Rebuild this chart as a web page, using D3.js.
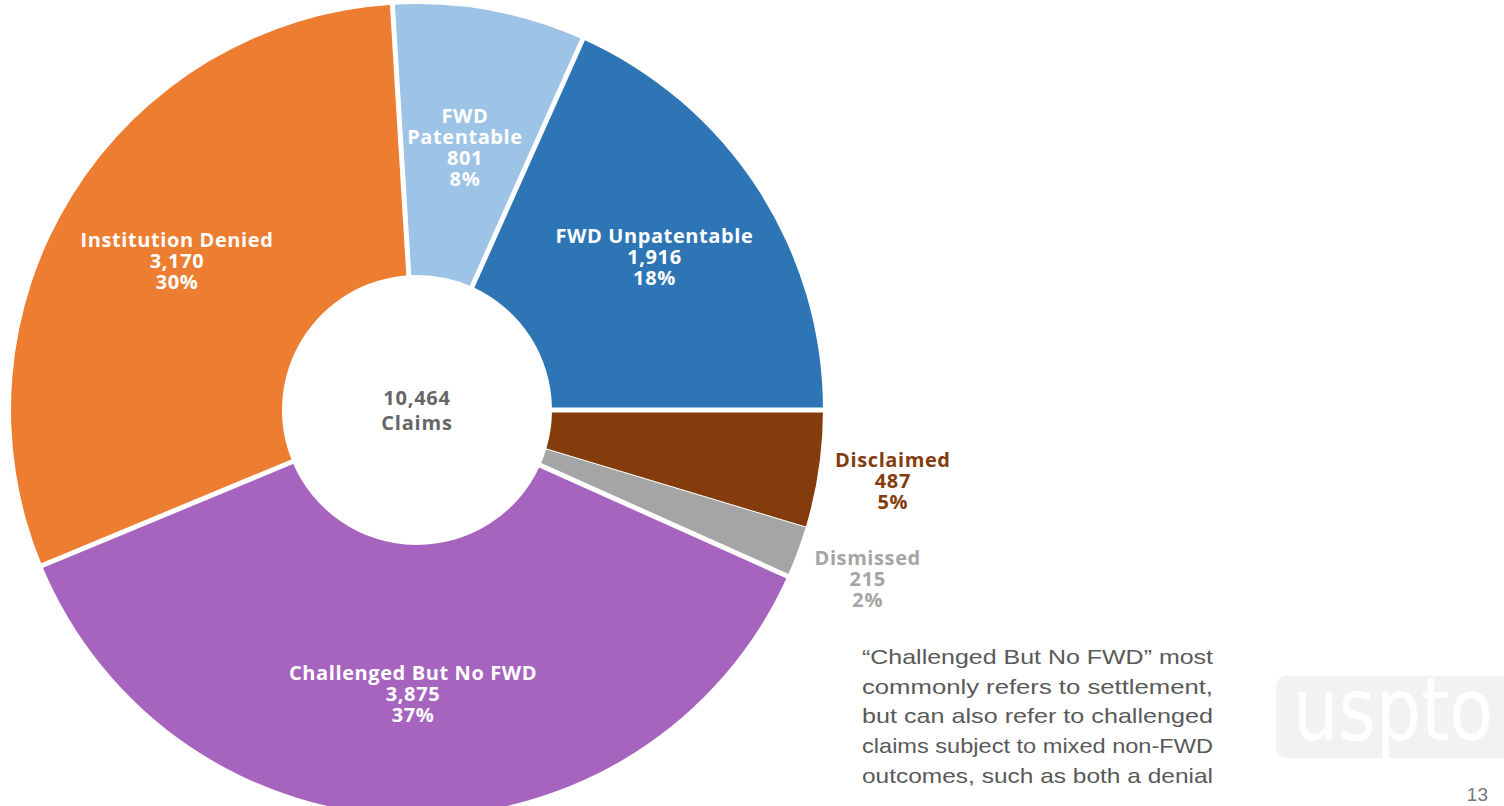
<!DOCTYPE html>
<html>
<head>
<meta charset="utf-8">
<script src="https://cdn.jsdelivr.net/npm/d3@7"></script>
<style>
  body { margin: 0; background: #fff; }
  svg { display: block; }
</style>
</head>
<body>
<svg id="chart" width="1504" height="806"></svg>
<script>
// claim outcomes, clockwise from just left of 12 o'clock
const categories = ["FWD Patentable", "FWD Unpatentable", "Disclaimed", "Dismissed", "Challenged But No FWD", "Institution Denied"];
const labelLines = [["FWD", "Patentable"], ["FWD Unpatentable"], ["Disclaimed"], ["Dismissed"], ["Challenged But No FWD"], ["Institution Denied"]];
const claims = [801, 1916, 487, 215, 3875, 3170];
const percents = ["8%", "18%", "5%", "2%", "37%", "30%"];
const totalLabel = ["10,464", "Claims"];
const noteLines = [
    "\u201cChallenged But No FWD\u201d most",
    "commonly refers to settlement,",
    "but can also refer to challenged",
    "claims subject to mixed non-FWD",
    "outcomes, such as both a denial"
];
const pageNumber = "13";

const colors = {
    "FWD Patentable": "#9dc3e6",
    "FWD Unpatentable": "#2e75b6",
    "Disclaimed": "#843c0c",
    "Dismissed": "#a5a5a5",
    "Challenged But No FWD": "#a764bf",
    "Institution Denied": "#ed7d31",
};
// slices that get their label outside the ring
const outside = ["Disclaimed", "Dismissed"];

const svg = d3.select("#chart");
const cx = 417, cy = 410;
const outerR = 406, innerR = 135;

const data = categories.map((c, i) => ({
    name: c, value: claims[i], lines: labelLines[i], pct: percents[i],
}));

const total = d3.sum(claims);
const startDeg = 90 - (claims[0] + claims[1]) / total * 360;

const pie = d3.pie()
    .value((d) => d.value)
    .sort(null)
    .startAngle(startDeg * Math.PI / 180)
    .endAngle((startDeg + 360) * Math.PI / 180);

const arcs = pie(data);

const arc = d3.arc().innerRadius(innerR).outerRadius(outerR);

const g = svg.append("g").attr("transform", `translate(${cx},${cy})`);

g.selectAll("path.slice")
    .data(arcs)
    .join("path")
    .attr("class", "slice")
    .attr("d", arc)
    .attr("fill", (d) => colors[d.data.name]);

// white gaps between slices (thin one between disclaimed / dismissed)
g.selectAll("line.gap")
    .data(arcs)
    .join("line")
    .attr("class", "gap")
    .attr("x1", (d) => innerR * 0.9 * Math.sin(d.startAngle))
    .attr("y1", (d) => -innerR * 0.9 * Math.cos(d.startAngle))
    .attr("x2", (d) => (outerR + 5) * Math.sin(d.startAngle))
    .attr("y2", (d) => -(outerR + 5) * Math.cos(d.startAngle))
    .attr("stroke", "#fff")
    .attr("stroke-width", (d) => d.data.name === "Dismissed" ? 1 : 5);

const font = "'Open Sans', 'Noto Sans', sans-serif";
const lineH = 21;

arcs.forEach((d) => {
    const out = outside.includes(d.data.name);
    const mid = (d.startAngle + d.endAngle) / 2;
    const allLines = [...d.data.lines, d3.format(",")(d.data.value), d.data.pct];
    const r = out ? 481 : (allLines.length > 3 ? 268 : 283);
    const x = r * Math.sin(mid), y = -r * Math.cos(mid);
    const fill = out ? colors[d.data.name] : "#fff";
    const t = g.append("text")
        .attr("x", x)
        .attr("y", y - (allLines.length - 1) * lineH / 2)
        .attr("text-anchor", "middle")
        .attr("dominant-baseline", "central")
        .style("font-family", font)
        .style("font-weight", 700)
        .style("font-size", "20px")
        .style("letter-spacing", "0.6px")
        .attr("fill", fill);
    allLines.forEach((l, i) => {
        t.append("tspan")
            .attr("x", x)
            .attr("dy", i === 0 ? 0 : lineH)
            .text(l);
    });
});

// centre total
g.selectAll("text.total")
    .data(totalLabel)
    .join("text")
    .attr("class", "total")
    .attr("x", 0)
    .attr("y", (d, i) => -13 + i * 25)
    .attr("text-anchor", "middle")
    .attr("dominant-baseline", "central")
    .style("font-family", font)
    .style("font-weight", 700)
    .style("font-size", "20px")
    .style("letter-spacing", "0.8px")
    .attr("fill", "#666")
    .text((d) => d);

// footnote
svg.selectAll("text.note")
    .data(noteLines)
    .join("text")
    .attr("class", "note")
    .attr("x", 862)
    .attr("y", (d, i) => 664 + i * 29.7)
    .attr("textLength", 351)
    .attr("lengthAdjust", "spacingAndGlyphs")
    .style("font-family", "'Liberation Sans', Arial, sans-serif")
    .style("font-size", "21px")
    .attr("fill", "#595959")
    .text((d) => d);

// watermark logo
svg.append("rect")
    .attr("x", 1276).attr("y", 676)
    .attr("width", 250).attr("height", 82)
    .attr("rx", 10)
    .attr("fill", "#f2f2f2");
svg.append("text")
    .attr("x", 1293).attr("y", 740)
    .style("font-family", "'DejaVu Sans', sans-serif")
    .style("font-size", "88px")
    .attr("fill", "#fff")
    .attr("textLength", 200)
    .attr("lengthAdjust", "spacingAndGlyphs")
    .text("uspto");

svg.append("text")
    .attr("x", 1488).attr("y", 801)
    .attr("text-anchor", "end")
    .style("font-family", "'Liberation Sans', Arial, sans-serif")
    .style("font-size", "19px")
    .attr("fill", "#777")
    .text(pageNumber);
</script>
</body>
</html>
